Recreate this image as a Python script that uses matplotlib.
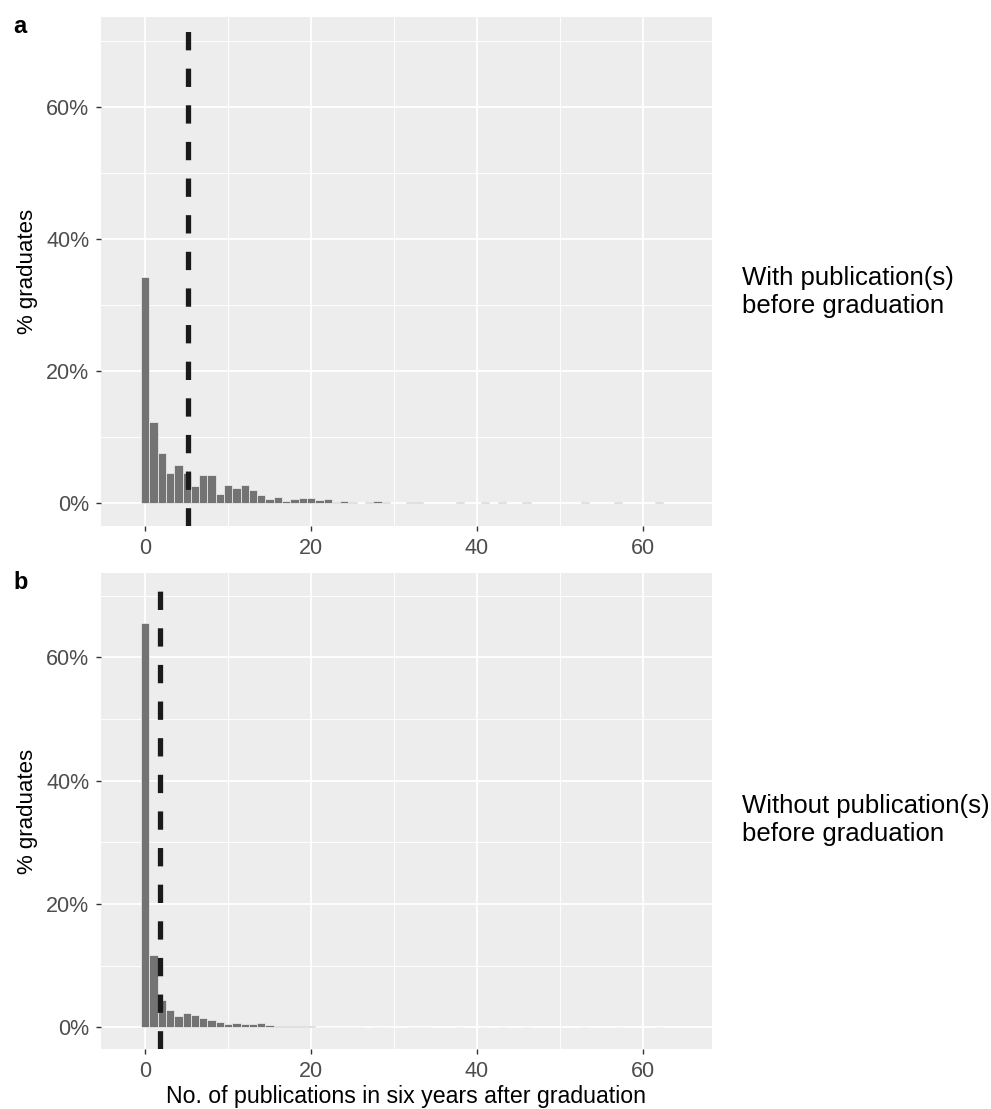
import matplotlib
matplotlib.use('Agg')
import matplotlib.pyplot as plt
import numpy as np

plt.rcParams['font.family'] = ['Liberation Sans', 'DejaVu Sans']

# ---- data ----
pubs = list(range(0, 63))
with_pub = [34.3, 12.3, 7.5, 4.5, 5.7, 4.5, 2.5, 4.2, 4.2, 1.3,
            2.7, 2.3, 2.7, 1.9, 1.2, 0.5, 0.9, 0.25, 0.5, 0.75,
            0.75, 0.4, 0.5, 0.15, 0.3, 0.15, 0, 0.15, 0.3, 0.15,
            0, 0, 0.15, 0.15, 0, 0, 0, 0, 0.15, 0,
            0, 0.15, 0, 0.15, 0, 0, 0.15, 0, 0, 0,
            0, 0, 0, 0.05, 0, 0, 0, 0.15, 0, 0,
            0, 0, 0.05]
without_pub = [65.6, 11.8, 4.4, 2.8, 1.8, 2.35, 1.95, 1.55, 1.1, 0.87,
               0.54, 0.68, 0.6, 0.54, 0.7, 0.43, 0.22, 0.2, 0.2, 0.15,
               0.2, 0.12, 0.12, 0.1, 0.1, 0.1, 0.1, 0, 0.08, 0.08,
               0, 0, 0.06, 0.06, 0.06, 0, 0, 0, 0.05, 0,
               0, 0.05, 0, 0.05, 0, 0, 0.05, 0, 0, 0,
               0, 0, 0, 0.04, 0, 0, 0, 0.04, 0, 0,
               0, 0, 0.04]
mean_with = 5.1
mean_without = 1.8
panel_tags = ['a', 'b']
group_labels = ['With publication(s)\nbefore graduation',
                'Without publication(s)\nbefore graduation']
x_ticks = [0, 20, 40, 60]
y_ticks = [0, 20, 40, 60]
y_ticklabels = ['0%', '20%', '40%', '60%']
x_title = 'No. of publications in six years after graduation'
y_title = '% graduates'

W, H = 991, 1109
fig = plt.figure(figsize=(W / 100, H / 100), dpi=100)

def fx(px):
    return px / W

def fy(py):
    return 1 - py / H

# panel pixel boxes: (left, top, right, bottom)
boxes = [(101, 17, 712, 526), (101, 573, 712, 1049)]
series = [with_pub, without_pub]
means = [mean_with, mean_without]
label_centers = [292, 820]
tag_base = [33, 589]
ylab_centers = [271.5, 811]

for i in range(2):
    l, t, r, b = boxes[i]
    ax = fig.add_axes([fx(l), fy(b), (r - l) / W, (b - t) / H])
    ax.set_facecolor('#EDEDED')
    for s in ax.spines.values():
        s.set_visible(False)
    vals = np.array(series[i])
    xs = np.array(pubs)
    m = vals > 0
    ax.bar(xs[m], vals[m], width=1.0, color='#737373',
           edgecolor='#F2F2F2', linewidth=0.5, zorder=2)
    ax.axvline(means[i], color='#1A1A1A', linewidth=3.8,
               linestyle=(0, (3.47, 3.47)), zorder=3)
    ax.set_xlim(-5.34, 68.36)
    ax.set_ylim(-3.53, 73.7)
    ax.set_xticks(x_ticks)
    ax.set_xticks([10, 30, 50], minor=True)
    ax.set_yticks(y_ticks)
    ax.set_yticks([10, 30, 50, 70], minor=True)
    ax.set_yticklabels(y_ticklabels)
    ax.grid(which='major', color='white', linewidth=1.3, zorder=0)
    ax.grid(which='minor', color='white', linewidth=0.65, zorder=0)
    ax.set_axisbelow(True)
    ax.tick_params(which='major', length=3.6, width=1.0, color='#333333',
                   labelsize=15.5, labelcolor='#4D4D4D', pad=4.8)
    ax.tick_params(which='minor', length=0)
    fig.text(fx(742), fy(label_centers[i]), group_labels[i], ha='left',
             va='center', fontsize=18.5, color='black', linespacing=1.25)
    fig.text(fx(13), fy(tag_base[i]), panel_tags[i], ha='left',
             va='baseline', fontsize=17, fontweight='bold', color='black')
    fig.text(fx(27), fy(ylab_centers[i]), y_title, rotation=90,
             ha='center', va='center', fontsize=16, color='black')

fig.text(fx(406.5), fy(1097), x_title, ha='center', va='center',
         fontsize=16.7, color='black')

fig.savefig('out.png', dpi=100)
